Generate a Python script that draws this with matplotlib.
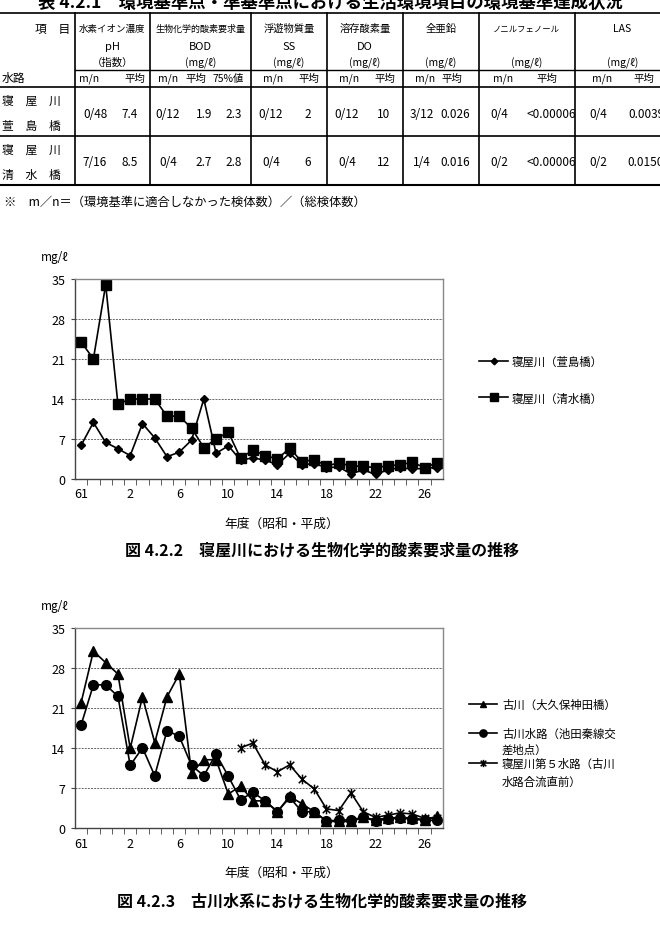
import numpy as np
import matplotlib
matplotlib.use("Agg")
import matplotlib.pyplot as plt
from matplotlib.lines import Line2D
from matplotlib.path import Path

plt.rcParams['font.family'] = ['Noto Sans CJK JP', 'DejaVu Sans']

#------------------------------------------------------------------------------
# data

years = ['61', '62', '63', '元'] + [str(i) for i in range(2, 28)]
tick_years = ['61', '2', '6', '10', '14', '18', '22', '26']

# 寝屋川 BOD (mg/l)
kayashima = [5.9, 9.9, 6.4, 5.3, 4.1, 9.7, 7.2, 3.9, 4.7, 6.8, 14.0, 4.5, 5.8,
             3.3, 3.7, 3.3, 2.5, 4.5, 2.5, 2.7, 2.0, 2.1, 0.9, 1.6, 0.8, 1.6,
             2.0, 1.7, 1.9, 2.0]
shimizu = [24.0, 21.0, 34.0, 13.1, 14.0, 14.0, 14.0, 11.0, 11.0, 8.9, 5.5, 7.0,
           8.2, 3.6, 5.1, 4.1, 3.5, 5.4, 3.0, 3.4, 2.3, 2.8, 2.3, 2.2, 2.0, 2.3,
           2.5, 2.9, 2.0, 2.8]

# 古川水系 BOD (mg/l)
furukawa = [22, 31, 29, 27, 14, 23, 15, 23, 27, 9.7, 12, 12, 6.0, 7.4, 4.8, 4.8,
            2.9, 5.6, 4.3, 2.9, 1.2, 1.2, 1.2, 1.9, 1.5, 1.8, 1.9, 1.8, 1.5, 2.1]
furukawa_suiro = [18.1, 25.1, 25.1, 23.1, 11, 14.1, 9.2, 17.1, 16.1, 11, 9.2, 13,
                  9.1, 5.0, 6.3, 4.8, 2.9, 5.4, 2.9, 2.9, 1.3, 1.4, 1.5, 1.9,
                  1.3, 1.6, 1.8, 1.6, 1.4, 1.4]
daigo_suiro = [np.nan] * 13 + [14.1, 14.9, 11.1, 9.9, 11.1, 8.6, 6.9, 3.4, 3.1,
                               6.2, 2.9, 1.9, 2.3, 2.7, 2.5, 1.75, 1.75]

# table
items = ['水素イオン濃度', '生物化学的酸素要求量', '浮遊物質量', '溶存酸素量',
         '全亜鉛', 'ノニルフェノール', 'LAS']
symbols = ['pH', 'BOD', 'SS', 'DO', '', '', '']
units = ['（指数）'] + ['(mg/ℓ)'] * 6
subheads = ['m/n', '平均', 'm/n', '平均', '75%値', 'm/n', '平均', 'm/n', '平均',
            'm/n', '平均', 'm/n', '平均', 'm/n', '平均']
sites = [('寝　屋　川', '萱　島　橋'), ('寝　屋　川', '清　水　橋')]
values = [
  ['0/48', '7.4', '0/12', '1.9', '2.3', '0/12', '2', '0/12', '10', '3/12',
   '0.026', '0/4', '<0.00006', '0/4', '0.0039'],
  ['7/16', '8.5', '0/4', '2.7', '2.8', '0/4', '6', '0/4', '12', '1/4',
   '0.016', '0/2', '<0.00006', '0/2', '0.0150'],
]

#------------------------------------------------------------------------------

W, H = 660, 929
fig = plt.figure(figsize=(W / 100, H / 100), dpi=100)

def fx(x): return x / W
def fy(y): return 1 - y / H

def hline(y, x0, x1, lw=1.2):
  fig.add_artist(Line2D([fx(x0), fx(x1)], [fy(y), fy(y)], color='black', lw=lw))

def vline(x, y0, y1, lw=1.2):
  fig.add_artist(Line2D([fx(x), fx(x)], [fy(y0), fy(y1)], color='black', lw=lw))

def txt(x, y, s, size=8, ha='center', **kw):
  fig.text(fx(x), fy(y), s, fontsize=size, ha=ha, va='center', **kw)

#------------------------------------------------------------------------------
# table

txt(330, 3, '表 4.2.1　環境基準点・準基準点における生活環境項目の環境基準達成状況',
    size=12.5, weight='bold')

col_edges = [74.5, 150, 251, 327, 403, 478.5, 575, 670]
top, mid, head, r1, bot = 14, 71, 88, 137, 186
hline(top, 0, W)
hline(mid, col_edges[0], W, lw=1.0)
hline(head, 0, W)
hline(r1, 0, W)
hline(bot, 0, W, lw=1.5)
for x in col_edges[:-1]:
  vline(x, top, bot)

txt(70, 29, '項　目', size=8.5, ha='right')
txt(2, 78, '水路', size=8.5, ha='left')
item_sizes = [6.8, 6.5, 7.4, 7.4, 7.5, 6.0, 7.5]
for i in range(len(items)):
  cx = (col_edges[i] + col_edges[i + 1]) / 2
  txt(cx, 29, items[i], size=item_sizes[i])
  if symbols[i]:
    txt(cx, 47, symbols[i], size=8)
  txt(cx, 63, units[i], size=7.5)

sub_x = [89, 135, 168, 196, 228, 273, 309, 349, 385, 425, 452, 503, 547, 602, 644]
for x, s in zip(sub_x, subheads):
  txt(x, 79, s, size=7.5)

val_x = [95, 130, 168, 204, 234, 271, 308, 347, 384, 422, 455, 499, 551, 598, 646]
for k, (row, (s1, s2)) in enumerate(zip(values, sites)):
  y0 = head + k * (r1 - head)
  txt(2, y0 + 13, s1, size=8.5, ha='left')
  txt(2, y0 + 38, s2, size=8.5, ha='left')
  for x, v in zip(val_x, row):
    txt(x, y0 + 26, v, size=8.5)

txt(4, 202, '※　m／n＝（環境基準に適合しなかった検体数）／（総検体数）', size=8.8,
    ha='left')

#------------------------------------------------------------------------------
# charts

star = Path([(-1, -1), (1, 1), (-1, 1), (1, -1), (0, -1.3), (0, 1.3)],
            [Path.MOVETO, Path.LINETO, Path.MOVETO, Path.LINETO, Path.MOVETO,
             Path.LINETO])

def setup(ax):
  ax.set_xlim(-0.5, len(years) - 0.5)
  ax.set_ylim(0, 35)
  ax.set_yticks(range(0, 36, 7))
  pos = [years.index(t) for t in tick_years]
  ax.set_xticks(pos)
  ax.set_xticklabels(tick_years)
  ax.set_xticks(np.arange(0.5, len(years) - 1, 1), minor=True)
  ax.tick_params(axis='x', which='major', length=0, pad=6, labelsize=9)
  ax.tick_params(axis='x', which='minor', length=4, direction='out',
                 color='#444')
  ax.tick_params(axis='y', length=3, direction='out', labelsize=9, pad=4,
                 color='#444')
  for sp in ax.spines.values():
    sp.set_color('#888')
    sp.set_linewidth(1.0)
  ax.spines['left'].set_color('#444')
  ax.spines['bottom'].set_color('#444')
  for v in range(7, 35, 7):
    ax.axhline(v, color='#666', lw=0.7, ls=(0, (2, 1.2)), zorder=0)

x = np.arange(len(years))

ax1 = fig.add_axes([fx(75), fy(480), fx(443) - fx(75), fy(280) - fy(480)])
setup(ax1)
ax1.plot(x, kayashima, color='black', lw=1.2, marker='D', ms=4.2,
         label='寝屋川（萱島橋）')
ax1.plot(x, shimizu, color='black', lw=1.2, marker='s', ms=7,
         label='寝屋川（清水橋）')
ax1.legend(loc='center left', bbox_to_anchor=(fx(479), fy(380.5)),
           bbox_transform=fig.transFigure, frameon=False, fontsize=8.2,
           borderpad=0, borderaxespad=0, handlelength=2.55,
           handletextpad=0.35, labelspacing=2.2, markerscale=0.8)
txt(41, 257, 'mg/ℓ', size=8.5, ha='left')
txt(282, 524, '年度（昭和・平成）', size=9.2)
txt(322, 550, '図 4.2.2　寝屋川における生物化学的酸素要求量の推移', size=11.5,
    weight='bold')

ax2 = fig.add_axes([fx(75), fy(829.3), fx(443) - fx(75), fy(629.3) - fy(829.3)])
setup(ax2)
ax2.plot(x, furukawa, color='black', lw=1.2, marker='^', ms=6.5,
         label='古川（大久保神田橋）')
ax2.plot(x, furukawa_suiro, color='black', lw=1.2, marker='o', ms=7,
         label='古川水路（池田秦線交')
ax2.plot(x, daigo_suiro, color='black', lw=1.2, marker=star, ms=7, mew=1.1,
         label='寝屋川第５水路（古川')
ax2.legend(loc='center left', bbox_to_anchor=(fx(469), fy(734.5)),
           bbox_transform=fig.transFigure, frameon=False, fontsize=8.2,
           borderpad=0, borderaxespad=0, handlelength=2.45,
           handletextpad=0.45, labelspacing=1.6, markerscale=0.75)
txt(502, 750, '差地点）', size=8.2, ha='left')
txt(502, 782, '水路合流直前）', size=8.2, ha='left')
txt(41, 607, 'mg/ℓ', size=8.5, ha='left')
txt(282, 873, '年度（昭和・平成）', size=9.2)
txt(322, 901, '図 4.2.3　古川水系における生物化学的酸素要求量の推移', size=11.5,
    weight='bold')

fig.savefig('out.png', dpi=100)
